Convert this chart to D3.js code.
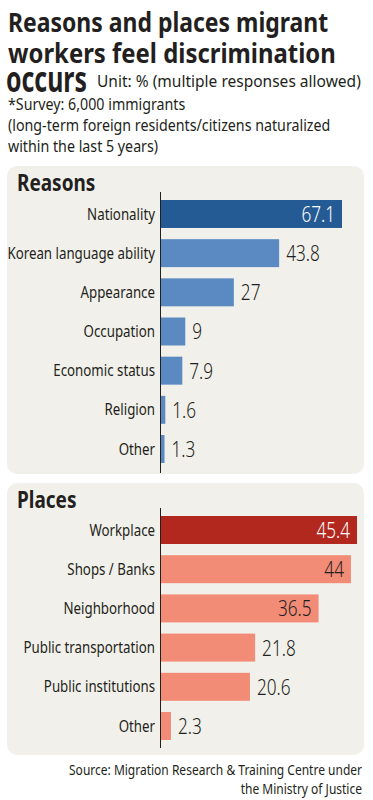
<!DOCTYPE html>
<html>
<head>
<meta charset="utf-8">
<script src="https://cdn.jsdelivr.net/npm/d3@7"></script>
<style>
  body { margin: 0; background: #fff; }
  svg text { font-family: "Noto Sans", "Open Sans", sans-serif; fill: #231f20; }
</style>
</head>
<body>
<div id="chart"></div>
<script>
// data
const reasonLabels = ["Nationality", "Korean language ability", "Appearance", "Occupation", "Economic status", "Religion", "Other"];
const reasonValues = [67.1, 43.8, 27, 9, 7.9, 1.6, 1.3];
const placeLabels = ["Workplace", "Shops / Banks", "Neighborhood", "Public transportation", "Public institutions", "Other"];
const placeValues = [45.4, 44, 36.5, 21.8, 20.6, 2.3];

const width = 373, height = 800;

const svg = d3.select("#chart")
    .append("svg")
    .attr("width", width)
    .attr("height", height);

// squeeze text horizontally (source font is a narrow humanist sans)
function squeeze(sel, k) {
  sel.each(function() {
    let w = this.getComputedTextLength();
    d3.select(this).attr("textLength", w * k).attr("lengthAdjust", "spacingAndGlyphs");
  });
}

// title block
let titleLines = ["Reasons and places migrant", "workers feel discrimination"];
let titleSqueeze = [0.85, 0.885];
svg.selectAll(".title").data(titleLines).enter()
    .append("text")
    .attr("class", "title")
    .attr("x", 8)
    .attr("y", (d, i) => 32 + i * 31)
    .style("font-size", "27px")
    .style("font-weight", 700)
    .text(d => d)
    .each(function(d, i) { d3.select(this).call(squeeze, titleSqueeze[i]); });

svg.append("text")
    .attr("x", 6).attr("y", 92)
    .style("font-size", "36px").style("font-weight", 700)
    .text("occurs")
    .call(squeeze, 0.69);

svg.append("text")
    .attr("x", 97).attr("y", 87)
    .style("font-size", "16px")
    .text("Unit: % (multiple responses allowed)")
    .call(squeeze, 0.97);

let noteLines = ["*Survey: 6,000 immigrants", "(long-term foreign residents/citizens naturalized", "within the last 5 years)"];
svg.selectAll(".note").data(noteLines).enter()
    .append("text")
    .attr("class", "note")
    .attr("x", 8)
    .attr("y", (d, i) => 110 + i * 21)
    .style("font-size", "16px")
    .text(d => d)
    .call(squeeze, 0.89);

// one panel of bars
function panel(cfg) {
  let g = svg.append("g");

  g.append("rect")
      .attr("x", 7).attr("y", cfg.top)
      .attr("width", 357).attr("height", cfg.bottom - cfg.top)
      .attr("rx", 10)
      .attr("fill", "#f2f0ea");

  g.append("text")
      .attr("x", 17).attr("y", cfg.titleY)
      .style("font-size", "24px").style("font-weight", 700)
      .text(cfg.title)
      .call(squeeze, 0.79);

  let x = d3.scaleLinear()
      .domain([0, d3.max(cfg.values)])
      .range([161, cfg.xmax]);

  let y = d3.scaleBand()
      .domain(cfg.labels)
      .range([cfg.barTop, cfg.barBottom])
      .paddingInner(0.286)
      .paddingOuter(0);

  let data = cfg.labels.map((d, i) => ({label: d, value: cfg.values[i], i: i}));

  g.selectAll(".bar").data(data).enter()
      .append("rect")
      .attr("class", "bar")
      .attr("x", x(0))
      .attr("y", d => y(d.label))
      .attr("width", d => x(d.value) - x(0))
      .attr("height", y.bandwidth())
      .attr("fill", d => d.i === 0 ? cfg.dark : cfg.light);

  // axis line
  g.append("line")
      .attr("x1", 160.5).attr("x2", 160.5)
      .attr("y1", cfg.axisTop).attr("y2", cfg.axisBottom)
      .attr("stroke", "#231f20").attr("stroke-width", 1);

  // category labels
  g.selectAll(".lab").data(data).enter()
      .append("text")
      .attr("class", "lab")
      .attr("x", 155)
      .attr("y", d => y(d.label) + y.bandwidth() / 2)
      .attr("dy", "0.35em")
      .style("text-anchor", "end")
      .style("font-size", "16px")
      .text(d => d.label)
      .call(squeeze, 0.83);

  // values: inside long bars, outside short ones
  g.selectAll(".val").data(data).enter()
      .append("text")
      .attr("class", "val")
      .each(function(d) { d.inside = x(d.value) - x(0) > 140; })
      .attr("x", d => d.inside ? x(d.value) - 7 : x(d.value) + 7)
      .attr("y", d => y(d.label) + y.bandwidth() / 2)
      .attr("dy", "0.36em")
      .style("text-anchor", d => d.inside ? "end" : "start")
      .style("font-size", "22px")
      .style("font-weight", 300)
      .style("fill", d => d.inside && d.i === 0 ? "#ffffff" : "#231f20")
      .text(d => d.value)
      .call(squeeze, 0.78);
}

panel({
  title: "Reasons", labels: reasonLabels, values: reasonValues,
  top: 166, bottom: 474, titleY: 191, barTop: 200, barBottom: 463, axisTop: 192, axisBottom: 473,
  xmax: 342, dark: "#245b95", light: "#5b8ac2"
});

panel({
  title: "Places", labels: placeLabels, values: placeValues,
  top: 483, bottom: 755, titleY: 508, barTop: 516, barBottom: 740, axisTop: 508, axisBottom: 748,
  xmax: 357, dark: "#b3281e", light: "#f28c76"
});

// source
let sourceLines = ["Source: Migration Research & Training Centre under", "the Ministry of Justice"];
svg.selectAll(".src").data(sourceLines).enter()
    .append("text")
    .attr("class", "src")
    .attr("x", 362)
    .attr("y", (d, i) => 775 + i * 19)
    .style("text-anchor", "end")
    .style("font-size", "15px")
    .text(d => d)
    .call(squeeze, 0.80);
</script>
</body>
</html>
